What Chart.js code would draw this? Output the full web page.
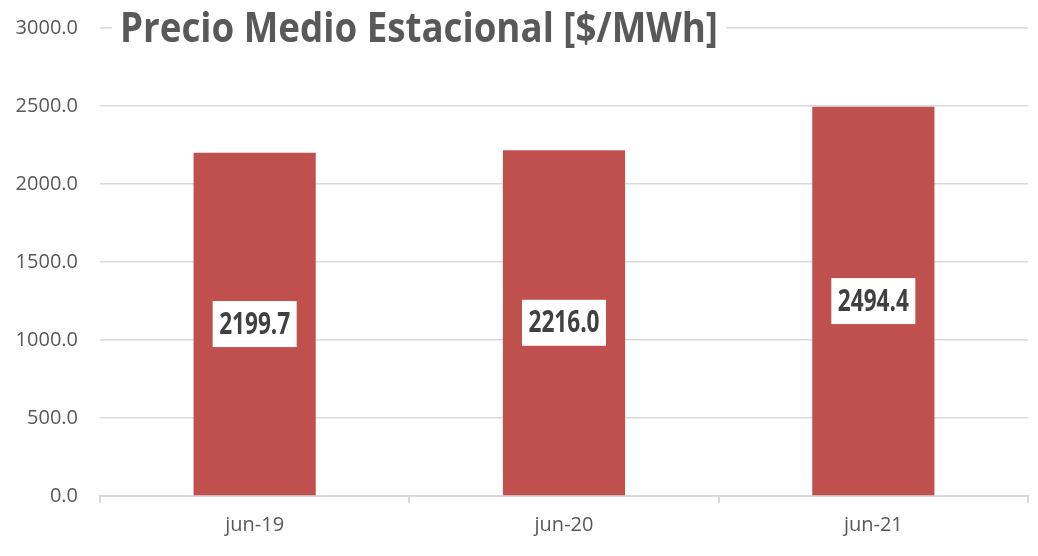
<!DOCTYPE html>
<html><head><meta charset="utf-8">
<script src="https://cdn.jsdelivr.net/npm/chart.js@4.4.0/dist/chart.umd.min.js"></script>
<style>html,body{margin:0;padding:0;background:#fff;}#wrap{width:1038px;height:556px;}</style>
</head><body><div id="wrap"><canvas id="c" width="1038" height="556"></canvas></div>
<script>
const categories = ["jun-19", "jun-20", "jun-21"];
const values = [2199.7, 2216.0, 2494.4];
const titleText = "Precio Medio Estacional [$/MWh]";
const yTicks = [0, 500, 1000, 1500, 2000, 2500, 3000];

const FONT = "'Open Sans', 'Liberation Sans', sans-serif";
const GREY = "#595959";

const titlePlugin = {
  id: 'overTitle',
  afterDraw(chart) {
    const ctx = chart.ctx;
    ctx.save();
    ctx.font = "bold 42px " + FONT;
    const w = ctx.measureText(titleText).width;
    const targetW = 598;
    const sx = targetW / w;
    const x = 120, top = 2, h = 56;
    ctx.fillStyle = "#fff";
    ctx.fillRect(x - 8, top, targetW + 16, h);
    ctx.translate(x, 0);
    ctx.scale(sx, 1);
    ctx.fillStyle = GREY;
    ctx.textBaseline = "alphabetic";
    ctx.fillText(titleText, 0, 42);
    ctx.restore();
  }
};

const labelPlugin = {
  id: 'boxLabels',
  afterDatasetsDraw(chart) {
    const ctx = chart.ctx;
    const meta = chart.getDatasetMeta(0);
    ctx.save();
    ctx.font = "bold 30px " + FONT;
    ctx.textAlign = "center";
    ctx.textBaseline = "middle";
    meta.data.forEach((bar, i) => {
      const txt = values[i].toFixed(1);
      const cx = bar.x;
      const cy = (bar.y + bar.base) / 2;
      const tw = ctx.measureText(txt).width;
      const sx = 71 / tw;
      const bw = 84, bh = 46;
      ctx.fillStyle = "#fff";
      ctx.fillRect(cx - bw / 2, cy - bh / 2, bw, bh);
      ctx.save();
      ctx.translate(cx, cy + 1);
      ctx.scale(sx, 1);
      ctx.fillStyle = "#404040";
      ctx.fillText(txt, 0, 0);
      ctx.restore();
    });
    ctx.restore();
  }
};

new Chart(document.getElementById('c'), {
  type: 'bar',
  data: {
    labels: categories,
    datasets: [{
      data: values,
      backgroundColor: "#C0504D",
      borderWidth: 0,
      barPercentage: 0.395,
      categoryPercentage: 1.0
    }]
  },
  options: {
    responsive: false,
    animation: false,
    layout: { padding: { top: 28, right: 10, left: 0, bottom: 0 } },
    plugins: { legend: { display: false }, title: { display: false }, tooltip: { enabled: false } },
    scales: {
      x: {
        afterFit: s => { s.height = 60; s.paddingLeft = 0; s.paddingRight = 0; },
        grid: { display: true, drawOnChartArea: false, drawTicks: true, tickLength: 7, color: "#d9d9d9", lineWidth: 2 },
        border: { display: true, color: "#d9d9d9", width: 2 },
        ticks: { color: GREY, font: { family: FONT, size: 20 }, padding: 10 }
      },
      y: {
        min: yTicks[0], max: yTicks[yTicks.length - 1],
        afterFit: s => { s.width = 100; s.paddingTop = 0; s.paddingBottom = 0; },
        afterBuildTicks: s => { s.ticks = yTicks.map(v => ({ value: v })); },
        grid: { color: "#d9d9d9", lineWidth: 1.5, drawTicks: false },
        border: { display: false },
        ticks: { color: GREY, font: { family: FONT, size: 20 }, padding: 22, callback: v => Number(v).toFixed(1) }
      }
    }
  },
  plugins: [titlePlugin, labelPlugin]
});
</script></body></html>
